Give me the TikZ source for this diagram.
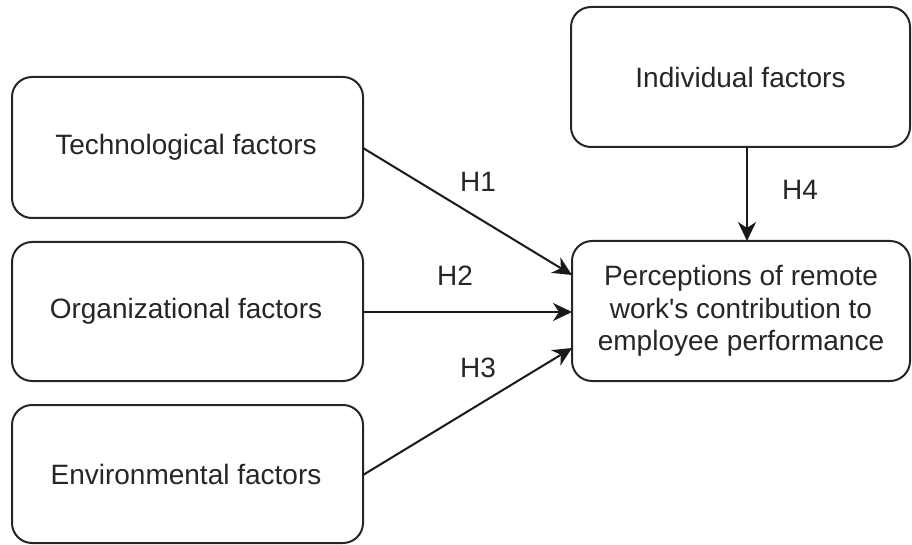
\documentclass[tikz,border=0pt]{standalone}
\usepackage{fontspec}
\setmainfont{Liberation Sans}[Ligatures=TeXOff]
\usetikzlibrary{arrows.meta}
\begin{document}
\begin{tikzpicture}[x=1pt,y=-1pt,
  box/.style={draw=black!85, line width=2pt, rounded corners=20pt, fill=white},
  lbl/.style={font=\fontsize{28}{32.5}\selectfont, text=black!85, align=center},
  conn/.style={line width=2pt, draw=black!90, -{Stealth[length=19pt,width=18pt,inset=6pt]}}]
\useasboundingbox (0,0) rectangle (912,545);
\draw[box] (12,77) rectangle (363,218);
\draw[box] (12,242) rectangle (363,381);
\draw[box] (12,405) rectangle (363,543);
\draw[box] (571,7) rectangle (910,147);
\draw[box] (572,241) rectangle (910,381);
\node[lbl] (tech) at (186,147.5) {Technological factors};
\node[lbl] (org) at (186,311.5) {Organizational factors};
\node[lbl] (env) at (186,474) {Environmental factors};
\node[lbl] (ind) at (740.5,77) {Individual factors};
\node[lbl] (perc) at (741,311) {Perceptions of remote\\work's contribution to\\employee performance};
\coordinate (t1) at (363,148);
\coordinate (t2) at (363,312);
\coordinate (t3) at (363,475);
\coordinate (t4) at (747,147);
\coordinate (p1) at (572,275);
\coordinate (p2) at (572,312);
\coordinate (p3) at (572,348);
\coordinate (p4) at (747,241);
\draw[conn] (t1) -- (p1);
\draw[conn] (t2) -- (p2);
\draw[conn] (t3) -- (p3);
\draw[conn] (t4) -- (p4);
\node[lbl] (h1) at (478,182) {H1};
\node[lbl] (h2) at (455,276) {H2};
\node[lbl] (h3) at (478,368) {H3};
\node[lbl] (h4) at (800,190) {H4};
\end{tikzpicture}
\end{document}
